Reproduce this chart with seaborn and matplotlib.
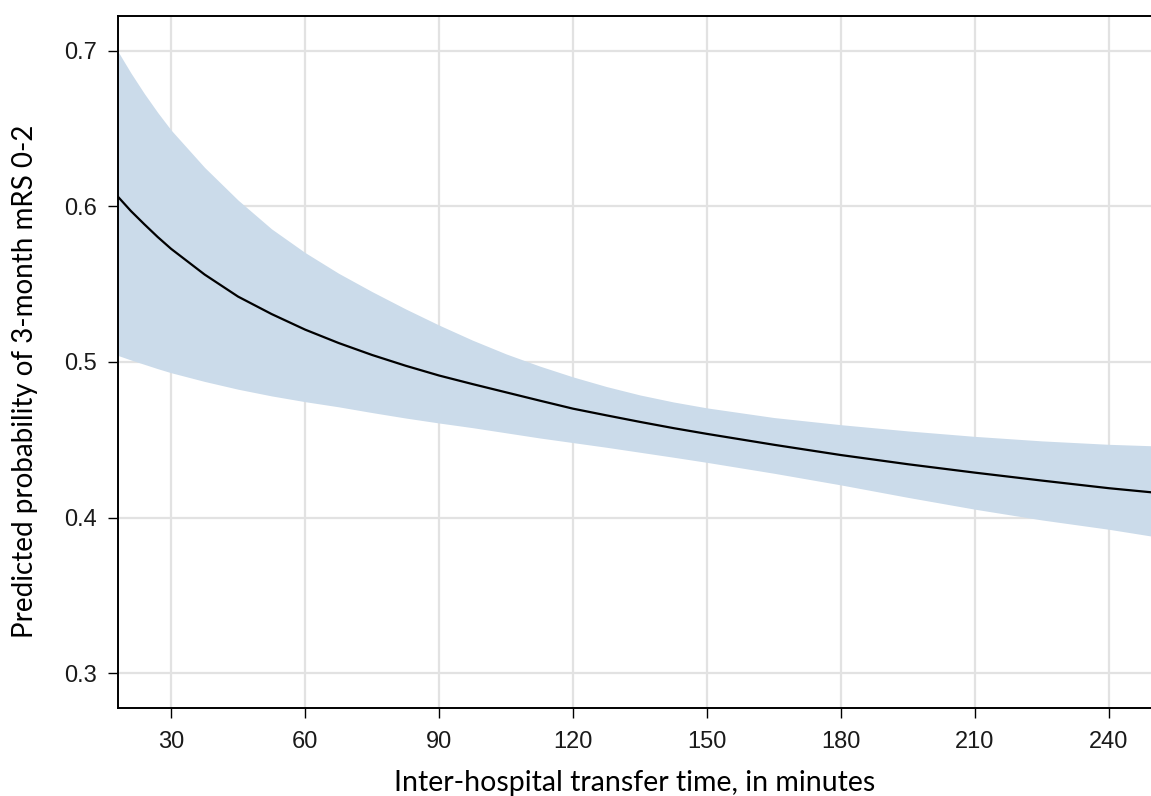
import matplotlib
matplotlib.use("Agg")
import matplotlib.pyplot as plt
import seaborn as sns
import pandas as pd

# Data
minutes = [18, 21, 24, 27, 30, 37.5, 45, 52.5, 60, 67.5, 75, 82.5, 90, 97.5, 105, 112.5,
           120, 127.5, 135, 142.5, 150, 165, 180, 195, 210, 225, 240, 249.4]
predicted = [0.6065, 0.5970, 0.5885, 0.5803, 0.5727, 0.5562, 0.5420, 0.5308, 0.5208,
             0.5122, 0.5045, 0.4976, 0.4913, 0.4858, 0.4805, 0.4752, 0.4700, 0.4657,
             0.4615, 0.4575, 0.4538, 0.4468, 0.4402, 0.4343, 0.4289, 0.4238, 0.4189, 0.4163]
upper_ci = [0.7000, 0.6857, 0.6725, 0.6603, 0.6490, 0.6250, 0.6040, 0.5855, 0.5703,
            0.5570, 0.5452, 0.5341, 0.5237, 0.5140, 0.5052, 0.4974, 0.4904, 0.4842,
            0.4788, 0.4743, 0.4705, 0.4643, 0.4597, 0.4557, 0.4522, 0.4493, 0.4471, 0.4462]
lower_ci = [0.5043, 0.5013, 0.4985, 0.4957, 0.4931, 0.4875, 0.4825, 0.4782, 0.4745,
            0.4712, 0.4675, 0.4640, 0.4608, 0.4578, 0.4545, 0.4512, 0.4482, 0.4452,
            0.4420, 0.4388, 0.4355, 0.4285, 0.4210, 0.4130, 0.4054, 0.3985, 0.3925, 0.3882]

x_ticks = [30, 60, 90, 120, 150, 180, 210, 240]
y_ticks = [0.3, 0.4, 0.5, 0.6, 0.7]

df = pd.DataFrame({"minutes": minutes, "predicted": predicted,
                   "upper": upper_ci, "lower": lower_ci})

sns.set_theme(style="white")
plt.rcParams["font.family"] = ["Liberation Sans", "DejaVu Sans"]

fig = plt.figure(figsize=(11.51, 7.96), dpi=100)
ax = fig.add_axes([117.5 / 1151, 1 - 708 / 796, 1 - 117.5 / 1151, (708 - 15.5) / 796])

ax.fill_between(df["minutes"], df["lower"], df["upper"], color="#cbdbea", lw=0, zorder=2)
sns.lineplot(data=df, x="minutes", y="predicted", ax=ax, color="black", lw=1.6, zorder=3)

ax.set_xlim(18, 249.4)
ax.set_ylim(0.2777, 0.7226)
ax.set_xticks(x_ticks)
ax.set_yticks(y_ticks)
ax.set_xticklabels([str(v) for v in x_ticks], family=["Liberation Sans", "DejaVu Sans"])
ax.set_yticklabels([f"{v:.1f}" for v in y_ticks], family=["Liberation Sans", "DejaVu Sans"])

ax.grid(True, color="#e2e2e2", lw=1.6, zorder=0)
ax.set_axisbelow(True)
for s in ["left", "top", "bottom"]:
    ax.spines[s].set_color("black")
    ax.spines[s].set_linewidth(1.4)
ax.spines["right"].set_visible(False)

ax.tick_params(axis="both", which="major", direction="out", length=7.5, width=1.0,
               color="black", labelsize=17, labelcolor="#1a1a1a",
               left=True, bottom=True)
ax.tick_params(axis="x", pad=9)
ax.tick_params(axis="y", pad=7)

ax.set_xlabel("Inter-hospital transfer time, in minutes", fontsize=20.5,
              family=["Lato", "DejaVu Sans"], labelpad=12, color="black")
ax.set_ylabel("Predicted probability of 3-month mRS 0-2", fontsize=20,
              family=["Lato", "DejaVu Sans"], color="black")
ax.yaxis.set_label_coords(-0.077, 0.472)

fig.savefig("out.png", dpi=100)
